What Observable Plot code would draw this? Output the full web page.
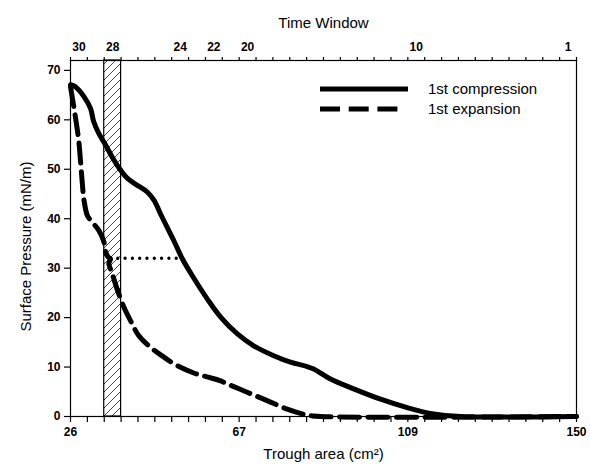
<!DOCTYPE html>
<html>
<head>
<meta charset="utf-8">
<script src="https://cdn.jsdelivr.net/npm/d3@7"></script>
<script src="https://cdn.jsdelivr.net/npm/@observablehq/plot@0.6"></script>
<style>
  body { margin: 0; background: #fff; }
  #chart svg { font-family: "Liberation Sans", Arial, sans-serif; }
</style>
</head>
<body>
<div id="chart"></div>
<script>
// ---- data ----
const compArea = [26.0, 27.2, 29.3, 30.9, 31.7, 32.9, 34.6, 36.2, 38.3, 39.9, 42.3, 44.8, 46.4, 48.4, 51.3, 53.4, 56.2, 59.5, 62.8, 66.9, 70.9, 75.8, 79.9, 84.0, 85.6, 89.7, 95.4, 102.0, 108.5, 115.0, 121.6, 150];
const compPressure = [67.1, 66.7, 64.7, 62.3, 59.6, 57.3, 54.9, 52.5, 49.8, 48.2, 46.8, 45.4, 43.8, 40.4, 35.6, 31.9, 28.0, 23.8, 20.1, 16.7, 14.3, 12.3, 11.0, 10.1, 9.6, 7.6, 5.6, 3.5, 1.8, 0.5, 0, 0];

const expArea = [26.0, 26.4, 27.2, 28.0, 28.5, 28.9, 29.3, 30.1, 30.9, 32.9, 34.2, 34.6, 35.3, 35.8, 35.4, 36.0, 36.6, 37.4, 39.1, 40.7, 42.7, 45.6, 48.9, 52.1, 56.2, 59.5, 62.8, 64.4, 69.3, 74.2, 79.1, 84.0, 87.3, 150];
const expPressure = [66.7, 64.7, 60.6, 55.9, 51.2, 47.1, 43.8, 40.7, 39.7, 37.7, 35.3, 33.3, 32.2, 31.9, 30.9, 29.4, 27.9, 25.8, 22.1, 19.4, 16.4, 14.0, 12.0, 10.3, 8.8, 8.0, 7.2, 6.6, 4.9, 3.2, 1.5, 0.3, 0, 0];

const plateauArea = [35.8, 52.9];
const plateauPressure = [32, 32];

const areaDomain = [26, 150];
const pressureDomain = [0, 72];
const nWindows = 30;
const bottomTickIndex = [0, 10, 20, 30];
const bottomTickLabels = ["26", "67", "109", "150"];
const windowLabels = [30, 28, 24, 22, 20, 10, 1];
const hatchWindow = 28;
const yTicks = [0, 10, 20, 30, 40, 50, 60, 70];
const seriesNames = ["1st compression", "1st expansion"];

// ---- derived ----
const step = (areaDomain[1] - areaDomain[0]) / nWindows;
const areaTicks = d3.range(nWindows + 1).map(k => areaDomain[0] + k * step);
const windowStart = w => areaDomain[0] + (nWindows - w) * step;
const comp = compArea.map((a, i) => ({a, p: compPressure[i]}));
const exp = expArea.map((a, i) => ({a, p: expPressure[i]}));
const plateau = plateauArea.map((a, i) => ({a, p: plateauPressure[i]}));
const bottomFmt = d => {
  const k = Math.round((d - areaDomain[0]) / step);
  const j = bottomTickIndex.indexOf(k);
  return j >= 0 ? bottomTickLabels[j] : "";
};

const font = "Liberation Sans, Arial, sans-serif";

const chart = Plot.plot({
  width: 590,
  height: 471,
  marginLeft: 70,
  marginRight: 14,
  marginTop: 60,
  marginBottom: 55,
  style: {fontFamily: font, background: "#fff", color: "#000", overflow: "visible"},
  x: {domain: areaDomain},
  y: {domain: pressureDomain},
  marks: [
    Plot.rect([hatchWindow], {
      x1: w => windowStart(w), x2: w => windowStart(w) + step,
      y1: pressureDomain[0], y2: pressureDomain[1],
      fill: "url(#hatch)", stroke: "#000", strokeWidth: 1.2
    }),
    Plot.axisY({ticks: yTicks, tickSize: 6, tickPadding: 4, label: null, fontSize: 12, fontWeight: "bold", stroke: "#000", strokeWidth: 1.2}),
    Plot.axisX({anchor: "bottom", ticks: areaTicks, tickSize: 6, tickPadding: 5, tickFormat: bottomFmt, label: null, fontSize: 12, fontWeight: "bold", strokeWidth: 1.2}),
    Plot.axisX({anchor: "top", ticks: areaTicks, tickSize: 4, tickFormat: () => "", label: null, strokeWidth: 1.2}),
    Plot.text(windowLabels, {
      x: w => windowStart(w) + step / 2, frameAnchor: "top", dy: -18,
      text: w => String(w), fontSize: 12, fontWeight: "bold"
    }),
    Plot.line(plateau, {x: "a", y: "p", stroke: "#000", strokeWidth: 3.4, strokeDasharray: "0,7.3", strokeLinecap: "round"}),
    Plot.line(exp, {x: "a", y: "p", stroke: "#000", strokeWidth: 5, curve: "catmull-rom", strokeDasharray: "20,8.5"}),
    Plot.line(comp, {x: "a", y: "p", stroke: "#000", strokeWidth: 5, curve: "catmull-rom", strokeLinecap: "round", strokeLinejoin: "round"}),
    Plot.frame({stroke: "#000", strokeWidth: 1.2}),
    Plot.text(["Time Window"], {frameAnchor: "top", dy: -43, fontSize: 15}),
    Plot.text(["Trough area (cm²)"], {frameAnchor: "bottom", dy: 42, fontSize: 15}),
    Plot.text(["Surface Pressure (mN/m)"], {frameAnchor: "left", textAnchor: "middle", dx: -44, dy: 8, rotate: -90, fontSize: 15})
  ]
});

// hatch pattern
const svg = d3.select(chart.tagName.toLowerCase() === "svg" ? chart : chart.querySelector("svg"));
const pat = svg.insert("defs", ":first-child").append("pattern")
  .attr("id", "hatch").attr("patternUnits", "userSpaceOnUse")
  .attr("width", 8).attr("height", 8);
pat.append("rect").attr("width", 8).attr("height", 8).attr("fill", "#fff");
pat.append("path").attr("d", "M-2,2 L2,-2 M0,8 L8,0 M6,10 L10,6")
  .attr("stroke", "#333").attr("stroke-width", 0.9);

// legend
const lg = svg.append("g").attr("text-anchor", "start");
const legendItems = [
  {name: seriesNames[0], y: 89, x2: 408, dash: null},
  {name: seriesNames[1], y: 109, x2: 398, dash: "20,8.7"}
];
legendItems.forEach(it => {
  lg.append("line").attr("x1", 320).attr("x2", it.x2).attr("y1", it.y).attr("y2", it.y)
    .attr("stroke", "#000").attr("stroke-width", 5)
    .attr("stroke-dasharray", it.dash);
  lg.append("text").attr("x", 428).attr("y", it.y).attr("dy", "0.35em")
    .attr("text-anchor", "start")
    .attr("font-size", 15).attr("font-family", font).attr("fill", "#000").text(it.name);
});

document.getElementById("chart").appendChild(chart);
</script>
</body>
</html>
